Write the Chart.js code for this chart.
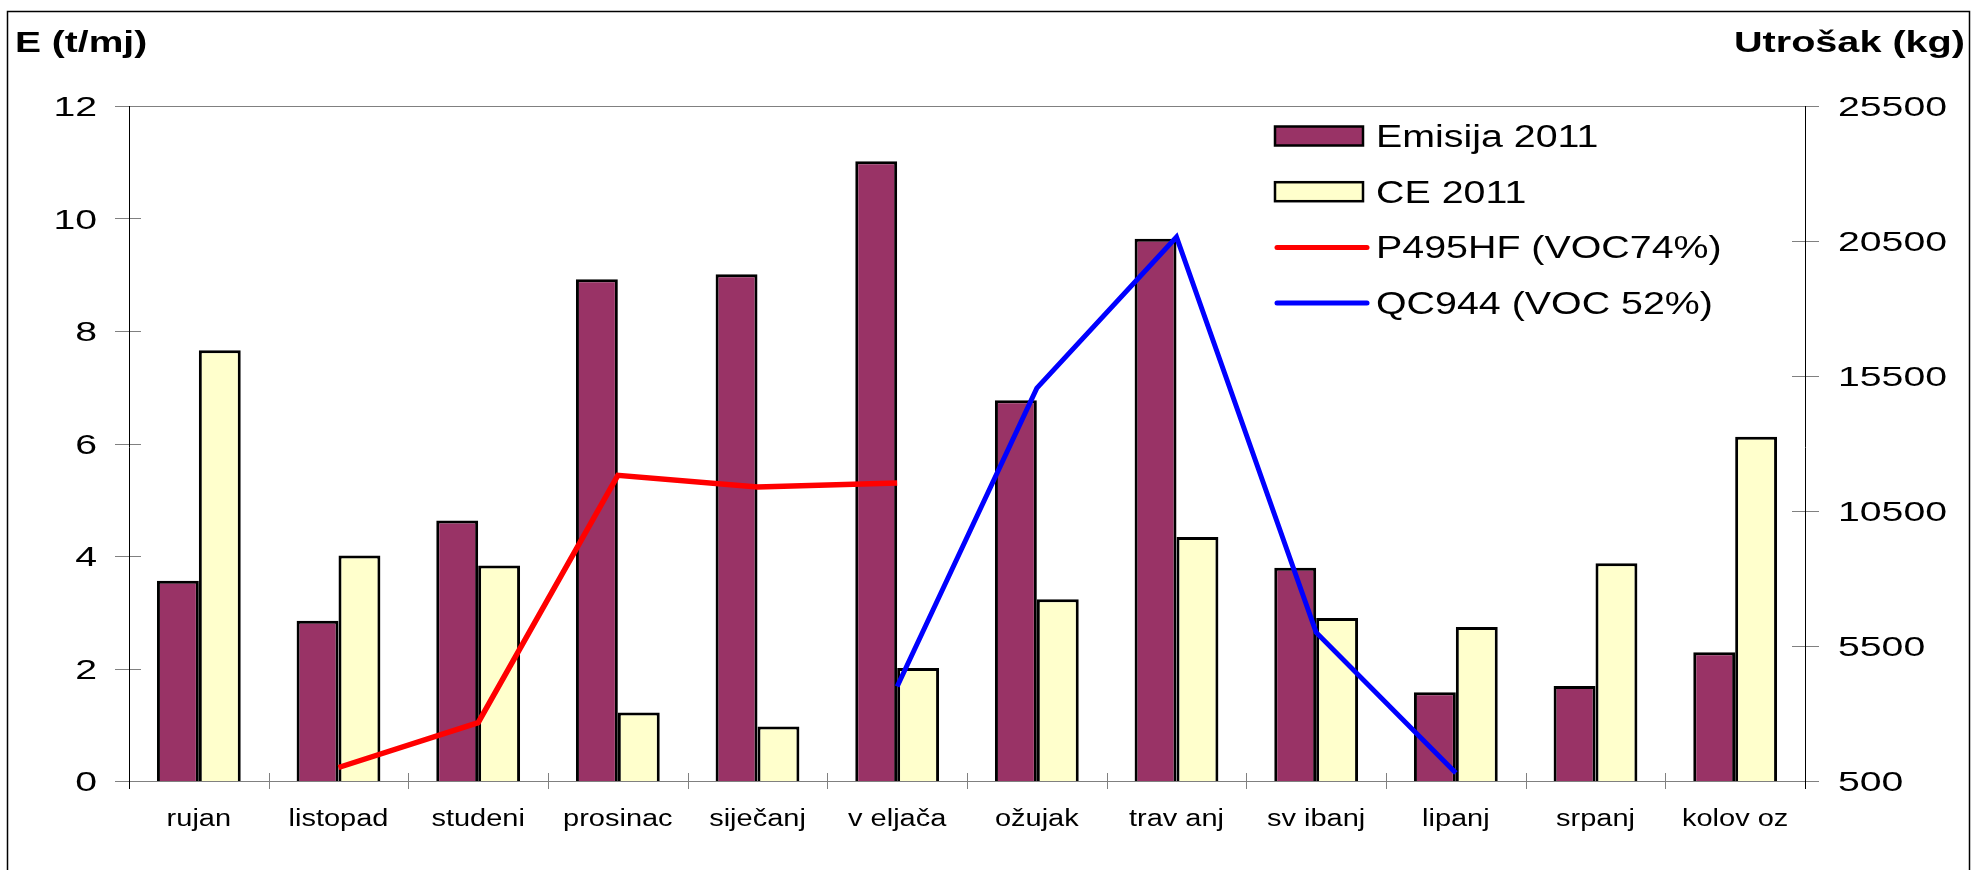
<!DOCTYPE html>
<html>
<head>
<meta charset="utf-8">
<title>Emisija 2011</title>
<script src="https://cdn.jsdelivr.net/npm/chart.js@4.4.1/dist/chart.umd.min.js"></script>
<style>
    html, body { margin: 0; padding: 0; background: #fff; overflow: hidden; }
    #wrap { width: 1972px; height: 870px; position: relative; }
</style>
</head>
<body>
<div id="wrap"><canvas id="chart"></canvas></div>
<script>
// Months (Sept 2011 -> Aug 2012), written as they appear on the chart
const MONTHS = ['rujan', 'listopad', 'studeni', 'prosinac', 'siječanj', 'v eljača',
                'ožujak', 'trav anj', 'sv ibanj', 'lipanj', 'srpanj', 'kolov oz'];

// Left axis, t/mj
const EMISIJA = [3.56, 2.85, 4.63, 8.92, 9.01, 11.02, 6.77, 9.64, 3.79, 1.58, 1.69, 2.29];
const CE_2011 = [7.66, 4.01, 3.83, 1.22, 0.97, 2.01, 3.23, 4.34, 2.90, 2.74, 3.87, 6.12];

// Right axis, kg
const P495HF = [null, 1000, 2660, 11820, 11390, 11540, null, null, null, null, null, null];
const QC944  = [null, null, null, null, null, 4000, 15050, 20650, 6000, 800, null, null];

// Axis ranges
const LEFT_AXIS = { min: 0, max: 12, step: 2 };
const RIGHT_AXIS = { min: 500, max: 25500, step: 5000 };

const FONT = "'Liberation Sans', Arial, sans-serif";

/**
 * Draw horizontally stretched text (the source chart uses wide lettering)
 */
function wideText(ctx, text, x, y, align, sx, font) {
    ctx.save();
    ctx.font = font;
    ctx.fillStyle = '#000';
    ctx.textAlign = align;
    ctx.textBaseline = 'alphabetic';
    ctx.translate(x, y);
    ctx.scale(sx, 1);
    ctx.fillText(text, 0, 0);
    ctx.restore();
}

function seg(ctx, x1, y1, x2, y2) {
    ctx.beginPath();
    ctx.moveTo(x1, y1);
    ctx.lineTo(x2, y2);
    ctx.stroke();
}

/**
 * Axis lines and crossing tick marks, drawn under the bars
 */
const axisFrame = {
    id: 'axisFrame',
    beforeDatasetsDraw(chart) {
        const { ctx, chartArea: a, scales } = chart;
        ctx.save();
        ctx.lineWidth = 1;
        ctx.strokeStyle = '#808080';

        // top line and zero line
        seg(ctx, a.left - 14, a.top + 0.5, a.right + 14, a.top + 0.5);
        seg(ctx, a.left - 14, a.bottom + 0.5, a.right + 14, a.bottom + 0.5);

        scales.y.ticks.forEach(t => {
            const yy = Math.round(scales.y.getPixelForValue(t.value)) + 0.5;
            seg(ctx, a.left - 14, yy, a.left + 12, yy);
        });
        scales.y1.ticks.forEach(t => {
            const yy = Math.round(scales.y1.getPixelForValue(t.value)) + 0.5;
            seg(ctx, a.right - 13, yy, a.right + 14, yy);
        });

        // category boundaries on the x axis
        const n = chart.data.labels.length;
        for (let i = 1; i < n; i++) {
            const xx = Math.round((scales.x.getPixelForTick(i - 1) + scales.x.getPixelForTick(i)) / 2) + 0.5;
            seg(ctx, xx, a.bottom - 8, xx, a.bottom + 8);
        }

        // vertical axes
        ctx.strokeStyle = '#000';
        seg(ctx, a.left + 0.5, a.top, a.left + 0.5, a.bottom + 8);
        seg(ctx, a.right + 0.5, a.top, a.right + 0.5, a.bottom + 8);
        ctx.restore();
    }
};

/**
 * Tick labels, axis titles, legend and the outer frame
 */
const decorations = {
    id: 'decorations',
    afterDraw(chart) {
        const { ctx, chartArea: a, scales } = chart;

        scales.y.ticks.forEach(t => {
            const yy = scales.y.getPixelForValue(t.value);
            wideText(ctx, String(t.value), a.left - 32, yy + 10, 'right', 1.4, `28px ${FONT}`);
        });
        scales.y1.ticks.forEach(t => {
            const yy = scales.y1.getPixelForValue(t.value);
            wideText(ctx, String(t.value), a.right + 33, yy + 10, 'left', 1.4, `28px ${FONT}`);
        });
        chart.data.labels.forEach((lab, i) => {
            wideText(ctx, lab, scales.x.getPixelForTick(i), a.bottom + 45, 'center', 1.26, `23px ${FONT}`);
        });

        // axis titles
        wideText(ctx, 'E (t/mj)', 15, 52, 'left', 1.3, `bold 30px ${FONT}`);
        wideText(ctx, 'Utrošak (kg)', 1965, 52, 'right', 1.32, `bold 30px ${FONT}`);

        // legend
        const lx = 1275, ly = 136, rowH = 55.7;
        chart.data.datasets.forEach((ds, i) => {
            const cy = ly + i * rowH;
            ctx.save();
            if (ds.type === 'line') {
                ctx.strokeStyle = ds.borderColor;
                ctx.lineWidth = 5;
                ctx.lineCap = 'round';
                seg(ctx, lx + 2, cy, lx + 92, cy);
            } else {
                ctx.fillStyle = ds.backgroundColor;
                ctx.strokeStyle = '#000';
                ctx.lineWidth = 2.5;
                ctx.fillRect(lx, cy - 9.5, 88, 19);
                ctx.strokeRect(lx, cy - 9.5, 88, 19);
            }
            ctx.restore();
            wideText(ctx, ds.label, lx + 101, cy + 11, 'left', 1.27, `31px ${FONT}`);
        });

        // outer frame
        ctx.save();
        ctx.strokeStyle = '#000';
        ctx.lineWidth = 1.5;
        ctx.strokeRect(7.5, 11.5, 1962, 900);
        ctx.restore();
    }
};

function initChart() {
    const el = document.getElementById('chart');

    new Chart(el, {
        data: {
            labels: MONTHS,
            datasets: [
                {
                    type: 'bar',
                    label: 'Emisija 2011',
                    data: EMISIJA,
                    yAxisID: 'y',
                    backgroundColor: '#993366',
                    borderColor: '#000',
                    borderWidth: 3,
                    barPercentage: 1,
                    categoryPercentage: 0.6,
                    order: 2
                },
                {
                    type: 'bar',
                    label: 'CE 2011',
                    data: CE_2011,
                    yAxisID: 'y',
                    backgroundColor: '#FFFFCC',
                    borderColor: '#000',
                    borderWidth: 3,
                    barPercentage: 1,
                    categoryPercentage: 0.6,
                    order: 2
                },
                {
                    type: 'line',
                    label: 'P495HF (VOC74%)',
                    data: P495HF,
                    yAxisID: 'y1',
                    borderColor: '#FF0000',
                    borderWidth: 5.5,
                    pointRadius: 0,
                    pointHoverRadius: 0,
                    tension: 0,
                    spanGaps: false,
                    order: 1
                },
                {
                    type: 'line',
                    label: 'QC944 (VOC 52%)',
                    data: QC944,
                    yAxisID: 'y1',
                    borderColor: '#0000FF',
                    borderWidth: 5,
                    pointRadius: 0,
                    pointHoverRadius: 0,
                    tension: 0,
                    spanGaps: false,
                    order: 1
                }
            ]
        },
        options: {
            responsive: true,
            maintainAspectRatio: false,
            devicePixelRatio: 1,
            animation: false,
            layout: { padding: { top: 106, left: 0, right: 0, bottom: 0 } },
            plugins: {
                legend: { display: false },
                tooltip: { enabled: false },
                title: { display: false }
            },
            scales: {
                x: {
                    offset: true,
                    grid: { display: false },
                    border: { display: false },
                    ticks: { display: false },
                    afterFit: s => { s.height = 89; }
                },
                y: {
                    position: 'left',
                    min: LEFT_AXIS.min,
                    max: LEFT_AXIS.max,
                    ticks: { stepSize: LEFT_AXIS.step, display: false },
                    grid: { display: false },
                    border: { display: false },
                    afterFit: s => { s.width = 129; }
                },
                y1: {
                    position: 'right',
                    min: RIGHT_AXIS.min,
                    max: RIGHT_AXIS.max,
                    ticks: { stepSize: RIGHT_AXIS.step, display: false },
                    grid: { display: false },
                    border: { display: false },
                    afterFit: s => { s.width = 167; }
                }
            }
        },
        plugins: [axisFrame, decorations]
    });
}

if (document.readyState === 'loading') {
    document.addEventListener('DOMContentLoaded', initChart);
} else {
    initChart();
}
</script>
</body>
</html>
